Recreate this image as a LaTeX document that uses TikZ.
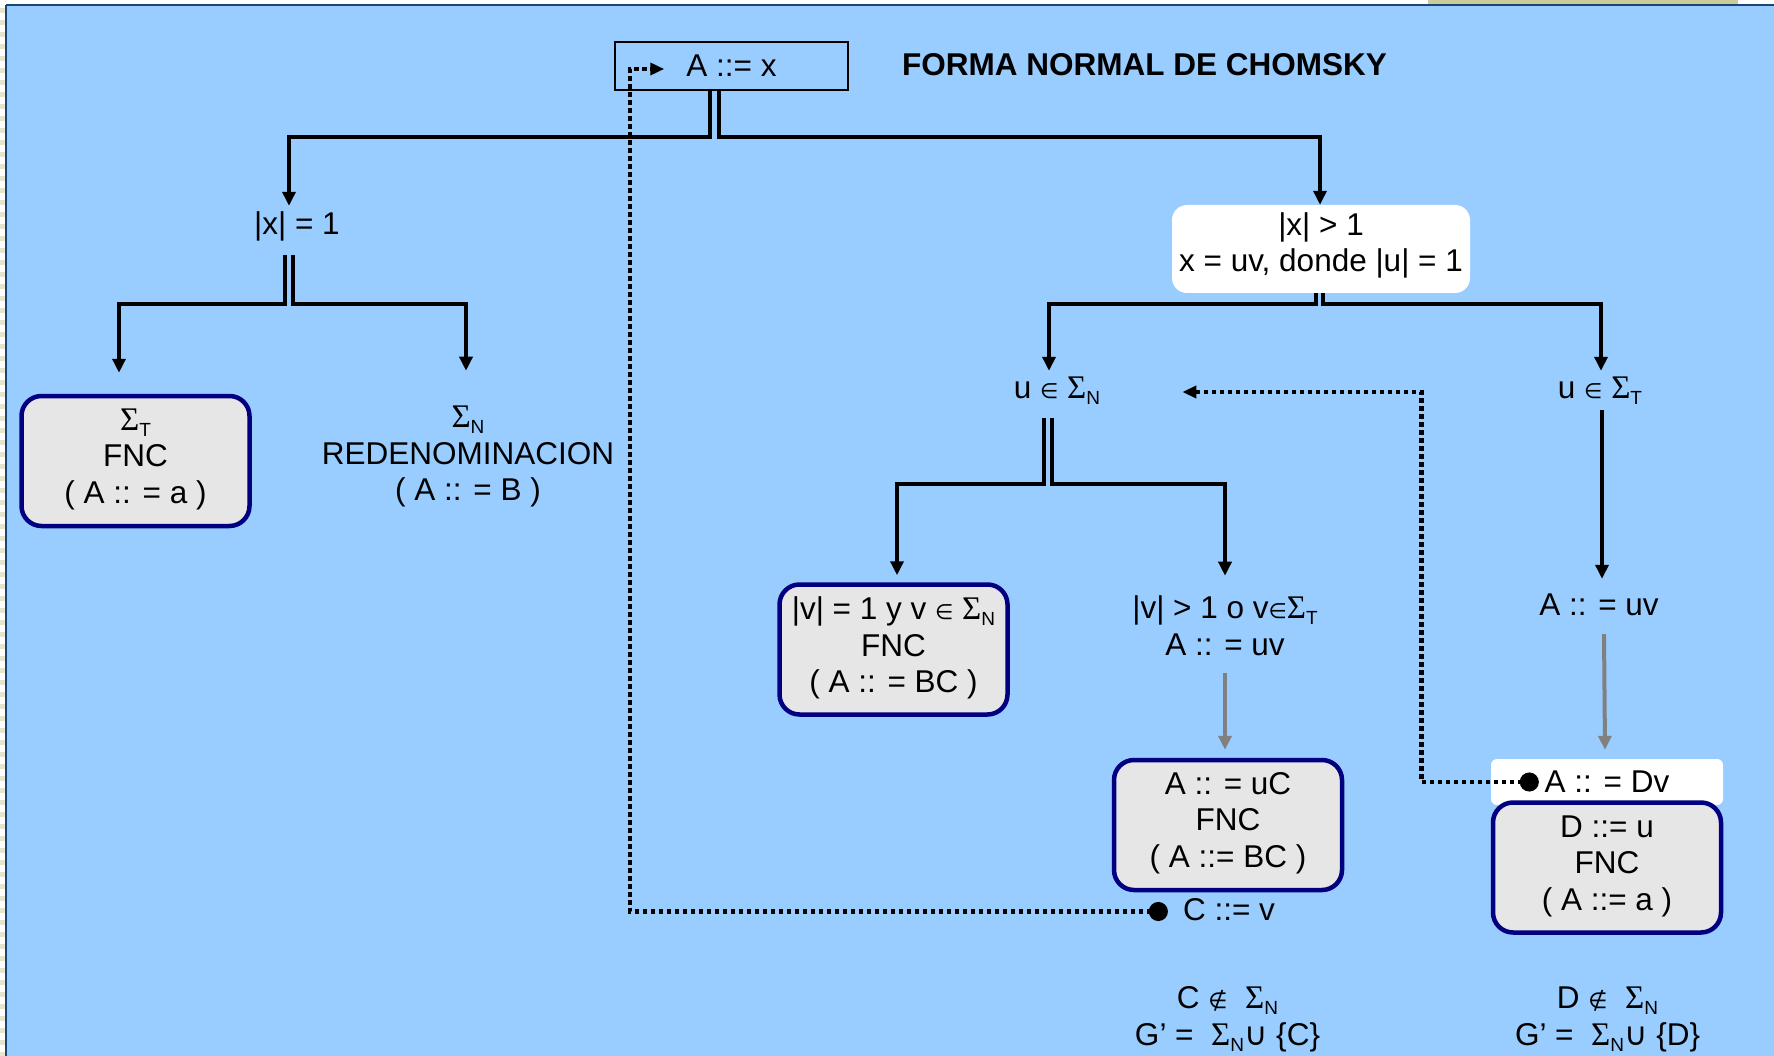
\documentclass[tikz,border=0pt]{standalone}
\usepackage{fontspec}
\setmainfont{Liberation Sans}
\newfontfamily\grkf{Liberation Serif}
\newfontfamily\symf{DejaVu Sans}
\usetikzlibrary{arrows.meta}
\definecolor{bgblue}{HTML}{99CCFF}
\definecolor{frameblue}{HTML}{1B4577}
\definecolor{boxfill}{HTML}{E6E6E6}
\definecolor{boxline}{HTML}{000080}
\definecolor{beige}{HTML}{CCCC99}
\definecolor{lbeige}{HTML}{E6E6CC}
\definecolor{arrgray}{HTML}{808080}
\newcommand\SG{{\grkf\fontsize{33}{33}\selectfont Σ}}
\newcommand\SUB[1]{\raisebox{-6pt}{\fontsize{19}{19}\selectfont #1}}
\newcommand\IN{{\symf\fontsize{21}{21}\selectfont ∈}}
\newcommand\NIN{{\symf\fontsize{22}{22}\selectfont ∉}}
\newcommand\CUP{{\symf\fontsize{32}{32}\selectfont ∪}}
\begin{document}
\begin{tikzpicture}[x=1pt,y=-1pt,
  every node/.style={font=\fontsize{31.5}{36.5}\selectfont, inner sep=0pt},
  lbl/.style={anchor=base, text height=24pt, text depth=7pt},
  fncbox/.style={draw=boxline, line width=4.5pt, fill=boxfill, rounded corners=20pt,
     minimum width=228pt, minimum height=130pt},
  fnctext/.style={align=center},
  conn/.style={line width=3.4pt, -{Triangle[length=14pt,width=13pt]}},
  grayarr/.style={draw=arrgray, line width=4pt, -{Triangle[length=14pt,width=13pt]}},
  dotc/.style={line width=4.5pt, dash pattern=on 4.5pt off 3.5pt,
     {Circle[length=19pt]}-{Triangle[length=14pt,width=12pt]}}]
\useasboundingbox (0,0) rectangle (1774,1056);
% background
\fill[white] (0,0) rectangle (1774,1056);
\fill[bgblue] (6,5) rectangle (1774,1056);
\draw[lbeige, line width=5pt, dash pattern=on 5pt off 7pt] (2.5,8) -- (2.5,1056);
\fill[beige] (1428,0) rectangle (1738,4.5);
\draw[frameblue, line width=2.5pt] (6,5) -- (1774,5);
\draw[frameblue, line width=2.5pt] (6,5) -- (6,1056);

% nodes
\node[draw=black, line width=1.5pt, minimum width=233pt, minimum height=48pt] (top) at (731.5,66) {A ::= x};
\node[anchor=base west, font=\fontsize{31.5}{36.5}\selectfont\bfseries] (title) at (902,75.5) {FORMA NORMAL DE CHOMSKY};
\node[lbl] (x1) at (297,235) {|x| = 1};
\node[fill=white, rounded corners=15pt, minimum width=298pt, minimum height=88pt] (xg) at (1321,249) {};
\node[align=center] (xgt) at (1321,245.5) {|x| > 1\\x = uv, donde |u| = 1};
\node[fncbox] (sT) at (135.5,461) {};
\node[fnctext] (sTt) at (135.5,459) {\SG\SUB{T}\\FNC\\( A :: = a )};
\node[align=center] (sN) at (468,456.5) {\SG\SUB{N}\\REDENOMINACION\\( A :: = B )};
\node[lbl] (uN) at (1057,398) {u \IN\ \SG\SUB{N}};
\node[lbl] (uT) at (1600,398) {u \IN\ \SG\SUB{T}};
\node[fncbox] (v1) at (893.5,649.5) {};
\node[fnctext] (v1t) at (893.5,648) {|v| = 1 y v \IN\ \SG\SUB{N}\\FNC\\( A :: = BC )};
\node[align=center] (vg) at (1225,625.75) {|v| > 1 o v\IN\SG\SUB{T}\\A :: = uv};
\node[fncbox] (uC) at (1228,825) {};
\node[fnctext] (uCt) at (1228,823) {A :: = uC\\FNC\\( A ::= BC )};
\node[lbl] (Cv) at (1229,920) {C ::= v};
\node[lbl] (Auv) at (1599,615) {A :: = uv};
\node[fill=white, rounded corners=6pt, minimum width=232pt, minimum height=46pt] (Dv) at (1607,782) {A :: = Dv};
\node[fncbox] (Du) at (1607,867.5) {};
\node[fnctext] (Dut) at (1607,866) {D ::= u\\FNC\\( A ::= a )};
\node[lbl] (cN) at (1227.5,1008) {C \NIN\ \ \SG\SUB{N}};
\node[lbl] (gC) at (1227.5,1045) {G’ = \ \SG\SUB{N}\CUP\ \{C\}};
\node[lbl] (dN) at (1607.5,1008) {D \NIN\ \ \SG\SUB{N}};
\node[lbl] (gD) at (1607.5,1045) {G’ = \ \SG\SUB{N}\CUP\ \{D\}};

% tree connectors
\draw[conn] ([xshift=-21.5pt]top.south) |- (289,137) -- ([xshift=-8pt,yshift=5pt]x1.north);
\draw[conn] ([xshift=-12.5pt]top.south) |- (1320,137) -- ([xshift=-1pt]xg.north);
\draw[conn] ([xshift=-12pt,yshift=-13pt]x1.south) |- (119,304) -- ([xshift=-16.5pt,yshift=21pt]sT.north);
\draw[conn] ([xshift=-4pt,yshift=-13pt]x1.south) |- (466,304) -- ([xshift=-2pt,yshift=35pt]sN.north);
\draw[conn] ([xshift=-5pt]xg.south) |- (1049,304) -- ([xshift=-8pt,yshift=3pt]uN.north);
\draw[conn] ([xshift=2pt]xg.south) |- (1601,304) -- ([xshift=1pt,yshift=3pt]uT.north);
\draw[conn] ([xshift=-13pt,yshift=-12.5pt]uN.south) |- (897,484) -- ([xshift=3.5pt,yshift=7pt]v1.north);
\draw[conn] ([xshift=-5pt,yshift=-12.5pt]uN.south) |- (1225,484) -- ([yshift=20pt]vg.north);
\draw[conn] ([xshift=2pt,yshift=-5pt]uT.south) -- ([xshift=3pt,yshift=12pt]Auv.north);
% gray arrows
\draw[grayarr] ([yshift=-17.5pt]vg.south) -- ([xshift=-3pt,yshift=8pt]uC.north);
\draw[grayarr] ([xshift=5pt,yshift=-12pt]Auv.south) -- ([xshift=-2pt,yshift=9pt]Dv.north);
% dotted connectors
\draw[dotc] ([xshift=-15pt]Cv.west) -| (630,69) -- ([xshift=50pt,yshift=-3pt]top.west);
\draw[dotc] ([xshift=48pt]Dv.west) -| (1421.5,392) -- ([xshift=82pt,yshift=-2.5pt]uN.east);
\end{tikzpicture}
\end{document}
